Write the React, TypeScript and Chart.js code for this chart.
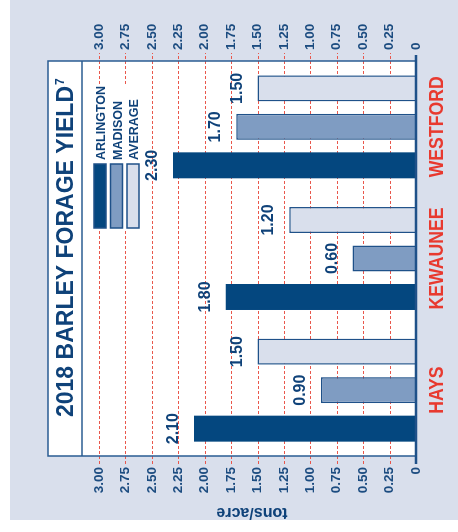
import React, { useEffect, useRef } from 'react';
import { Chart, registerables } from 'chart.js';

Chart.register(...registerables);

const categories = ['HAYS', 'KEWAUNEE', 'WESTFORD'];
const seriesNames = ['ARLINGTON', 'MADISON', 'AVERAGE'];
const arlington = [2.1, 1.8, 2.3];
const madison = [0.9, 0.6, 1.7];
const average = [1.5, 1.2, 1.5];
const tickLabels = ['0', '0.25', '0.50', '0.75', '1.00', '1.25', '1.50', '1.75', '2.00', '2.25', '2.50', '2.75', '3.00'];
const titleText = '2018 BARLEY FORAGE YIELD';
const titleNote = '7';
const axisTitle = 'tons/acre';

const W = 520;
const H = 448;
const FONT = "'Liberation Sans', Arial, sans-serif";
const C = {
  bg: '#d9dfec',
  arl: '#04477f',
  mad: '#7f9cc2',
  avg: '#d9dfec',
  border: '#1f5189',
  grid: '#e9574c',
  text: '#0f4279',
  tick: '#1c4c80',
  red: '#e8392f',
};
const fills = [C.arl, C.mad, C.avg];

const decor = {
  id: 'decor',
  beforeDraw(chart: any) {
    const { ctx, chartArea: ca } = chart;
    ctx.save();
    ctx.fillStyle = C.bg;
    ctx.fillRect(0, 0, W, H);
    const top = ca.top - 51;
    ctx.fillStyle = '#ffffff';
    ctx.fillRect(ca.left, top, ca.right - ca.left, ca.bottom - top);
    ctx.restore();
  },
  beforeDatasetsDraw(chart: any) {
    const { ctx, chartArea: ca } = chart;
    const y = chart.scales.y;
    ctx.save();
    ctx.strokeStyle = C.grid;
    ctx.lineWidth = 1;
    ctx.setLineDash([3, 2]);
    y.ticks.forEach((t: any) => {
      if (t.value === 0) return;
      const py = Math.round(y.getPixelForValue(t.value)) + 0.5;
      ctx.beginPath();
      ctx.moveTo(ca.left - 8, py);
      ctx.lineTo(ca.right + 8, py);
      ctx.stroke();
    });
    ctx.restore();
  },
  afterDatasetsDraw(chart: any) {
    const { ctx, chartArea: ca } = chart;
    const y = chart.scales.y;
    const x = chart.scales.x;
    ctx.save();

    // box border and title separator
    const top = ca.top - 51;
    ctx.strokeStyle = '#2a5c92';
    ctx.lineWidth = 1.5;
    ctx.strokeRect(ca.left, top, ca.right - ca.left, ca.bottom - top);
    ctx.beginPath();
    ctx.moveTo(ca.left, ca.top - 17);
    ctx.lineTo(ca.right, ca.top - 17);
    ctx.stroke();

    // baseline at 0
    const y0 = y.getPixelForValue(0);
    ctx.strokeStyle = C.border;
    ctx.lineWidth = 2.5;
    ctx.beginPath();
    ctx.moveTo(ca.left - 8, y0);
    ctx.lineTo(ca.right + 6, y0);
    ctx.stroke();

    // value labels
    ctx.fillStyle = C.text;
    ctx.font = `bold 16px ${FONT}`;
    ctx.textAlign = 'center';
    ctx.textBaseline = 'alphabetic';
    chart.data.datasets.forEach((ds: any, di: number) => {
      const meta = chart.getDatasetMeta(di);
      meta.data.forEach((bar: any, i: number) => {
        ctx.fillText(Number(ds.data[i]).toFixed(2), bar.x, bar.y - 16);
      });
    });

    // legend
    ctx.fillStyle = '#ffffff';
    ctx.fillRect(290, 75, 146, 59);
    seriesNames.forEach((name, i) => {
      const by = 84 + i * 16.5;
      ctx.fillStyle = fills[i];
      ctx.fillRect(292, by, 64, 12);
      ctx.strokeStyle = C.border;
      ctx.lineWidth = 1.5;
      ctx.strokeRect(292, by, 64, 12);
      ctx.fillStyle = C.text;
      ctx.font = `bold 12.5px ${FONT}`;
      ctx.textAlign = 'left';
      ctx.fillText(name, 360, by + 11);
    });

    // title
    ctx.fillStyle = C.text;
    ctx.font = `bold 23px ${FONT}`;
    ctx.textAlign = 'left';
    ctx.fillText(titleText, 103, 63);
    const tw = ctx.measureText(titleText).width;
    ctx.font = `bold 12px ${FONT}`;
    ctx.fillText(titleNote, 103 + tw + 1, 54);

    // category labels
    ctx.fillStyle = C.red;
    ctx.font = `bold 21px ${FONT}`;
    ctx.textAlign = 'center';
    categories.forEach((c, i) => {
      const cx = x.getPixelForValue(i);
      ctx.save();
      ctx.translate(cx, ca.bottom + 27);
      ctx.scale(0.84, 1);
      ctx.fillText(c, 0, 0);
      ctx.restore();
    });

    // axis title
    ctx.fillStyle = C.text;
    ctx.font = `bold 16px ${FONT}`;
    ctx.textAlign = 'center';
    ctx.textBaseline = 'middle';
    ctx.save();
    ctx.translate(8, 242);
    ctx.rotate(-Math.PI / 2);
    ctx.fillText(axisTitle, 0, 0);
    ctx.restore();

    ctx.restore();
  },
};

function valueAxis(position: 'left' | 'right', width: number) {
  return {
    type: 'linear',
    position,
    min: 0,
    max: 3,
    afterFit: (s: any) => {
      s.width = width;
    },
    border: { display: false },
    grid: { display: true, drawOnChartArea: false, lineWidth: 0, tickWidth: 0, tickLength: 8 },
    ticks: {
      stepSize: 0.25,
      padding: 3,
      color: C.tick,
      font: { family: FONT, size: 13.5, weight: 'bold' },
      callback: (_v: any, i: number) => tickLabels[i],
    },
  };
}

export default function App() {
  const ref = useRef<HTMLCanvasElement | null>(null);
  useEffect(() => {
    if (!ref.current) return;
    const chart = new Chart(ref.current, {
      type: 'bar',
      data: {
        labels: categories,
        datasets: [
          { label: seriesNames[0], data: arlington, backgroundColor: C.arl, borderColor: C.arl, borderWidth: 0 },
          { label: seriesNames[1], data: madison, backgroundColor: C.mad, borderColor: C.border, borderWidth: 1.5 },
          { label: seriesNames[2], data: average, backgroundColor: C.avg, borderColor: C.border, borderWidth: 1.5 },
        ],
      },
      options: {
        responsive: false,
        animation: false,
        devicePixelRatio: 1,
        layout: { padding: { top: 89, bottom: 42, left: 0, right: 0 } },
        datasets: { bar: { categoryPercentage: 0.877, barPercentage: 0.675 } },
        plugins: { legend: { display: false }, tooltip: { enabled: false }, title: { display: false } },
        scales: {
          x: { type: 'category', display: false, offset: true, grid: { display: false } },
          y: valueAxis('left', 64),
          y2: valueAxis('right', 61),
        },
      } as any,
      plugins: [decor],
    });
    return () => chart.destroy();
  }, []);

  return (
    <div style={{ position: 'absolute', left: 10, top: 0, width: H, height: W, overflow: 'hidden' }}>
      <div
        style={{
          width: W,
          height: H,
          transformOrigin: '0 0',
          transform: `translate(0px, ${W}px) rotate(-90deg)`,
        }}
      >
        <canvas ref={ref} width={W} height={H} style={{ display: 'block', width: W, height: H }} />
      </div>
    </div>
  );
}
